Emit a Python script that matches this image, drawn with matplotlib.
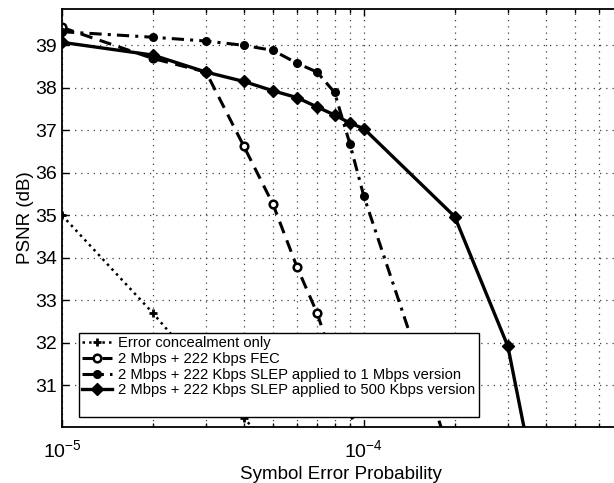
import matplotlib
matplotlib.use('Agg')
import matplotlib.pyplot as plt
from matplotlib.lines import Line2D
from matplotlib.ticker import LogLocator, LogFormatterSciNotation, NullFormatter, MultipleLocator

plt.rcParams['font.family'] = ['Liberation Sans', 'DejaVu Sans']
plt.rcParams['mathtext.fontset'] = 'custom'
plt.rcParams['mathtext.rm'] = 'Liberation Sans'
plt.rcParams['mathtext.it'] = 'Liberation Sans:italic'
plt.rcParams['mathtext.bf'] = 'Liberation Sans:bold'

# symbol error probability vs PSNR (dB)
conceal_x = [1e-5, 2e-5, 4e-5, 1e-4]
conceal_y = [35.0, 32.7, 30.22, 27.5]

fec_x = [1e-5, 2e-5, 3e-5, 4e-5, 5e-5, 6e-5, 7e-5, 1e-4]
fec_y = [39.42, 38.69, 38.37, 36.63, 35.26, 33.79, 32.70, 29.4]

slep1_x = [1e-5, 2e-5, 3e-5, 4e-5, 5e-5, 6e-5, 7e-5, 8e-5, 9e-5, 1e-4, 2e-4]
slep1_y = [39.32, 39.19, 39.10, 39.0, 38.88, 38.58, 38.37, 37.89, 36.67, 35.45, 29.06]

slep500_x = [1e-5, 2e-5, 3e-5, 4e-5, 5e-5, 6e-5, 7e-5, 8e-5, 9e-5, 1e-4, 2e-4, 3e-4, 4e-4]
slep500_y = [39.07, 38.77, 38.37, 38.15, 37.93, 37.77, 37.55, 37.36, 37.17, 37.04, 34.97, 31.92, 27.46]

labels = ['Error concealment only',
          '2 Mbps + 222 Kbps FEC',
          '2 Mbps + 222 Kbps SLEP applied to 1 Mbps version',
          '2 Mbps + 222 Kbps SLEP applied to 500 Kbps version']

fig = plt.figure(figsize=(6.14, 4.83), dpi=100)
ax = fig.add_axes([0.101, 0.116, 0.907, 0.865])

ax.plot(conceal_x, conceal_y, color='k', linestyle=':', lw=1.8,
        marker='+', ms=6, mew=2, label=labels[0])
ax.plot(fec_x, fec_y, color='k', linestyle=(0, (4, 2.5)), lw=2.2,
        marker='o', ms=5.5, mew=1.8, mfc='white', label=labels[1])
ax.plot(slep1_x, slep1_y, color='k', linestyle=(0, (4, 2, 1, 2)), lw=2.2,
        marker='o', ms=5.5, mfc='k', label=labels[2])
ax.plot(slep500_x, slep500_y, color='k', linestyle='-', lw=2.4,
        marker='D', ms=6.5, mfc='k', label=labels[3])

ax.set_xscale('log')
ax.set_xlim(1e-5, 7e-4)
ax.set_ylim(30.02, 39.85)

ax.xaxis.set_major_locator(LogLocator(base=10, numticks=10))
ax.xaxis.set_minor_locator(LogLocator(base=10, subs=range(2, 10), numticks=20))
ax.xaxis.set_minor_formatter(NullFormatter())
ax.xaxis.set_major_formatter(LogFormatterSciNotation())
ax.yaxis.set_major_locator(MultipleLocator(1))
ax.set_yticks(range(31, 40))

grid_style = dict(color='0.25', linestyle=(0, (1, 4)), linewidth=0.9)
ax.grid(True, which='major', axis='both', **grid_style)
ax.grid(True, which='minor', axis='x', **grid_style)

ax.tick_params(which='both', direction='in', top=True, labelsize=14, width=1)
ax.tick_params(which='major', length=5)
ax.tick_params(which='minor', length=3)
ax.tick_params(axis='x', pad=9)
for s in ax.spines.values():
    s.set_linewidth(1.3)

ax.set_xlabel('Symbol Error Probability', fontsize=13.5, labelpad=3)
ax.set_ylabel('PSNR (dB)', fontsize=13.5, labelpad=1)

handles, labs = ax.get_legend_handles_labels()
handles.append(Line2D([], [], linestyle='none'))
labs.append(' ')
leg = ax.legend(handles, labs, loc='lower left', bbox_to_anchor=(0.03, 0.024),
                borderaxespad=0, fontsize=10.6, handlelength=2.0, handletextpad=0.45,
                labelspacing=0.12, borderpad=0.25, fancybox=False, framealpha=1,
                edgecolor='k')
leg.get_frame().set_linewidth(1.0)

fig.savefig('out.png', dpi=100)
